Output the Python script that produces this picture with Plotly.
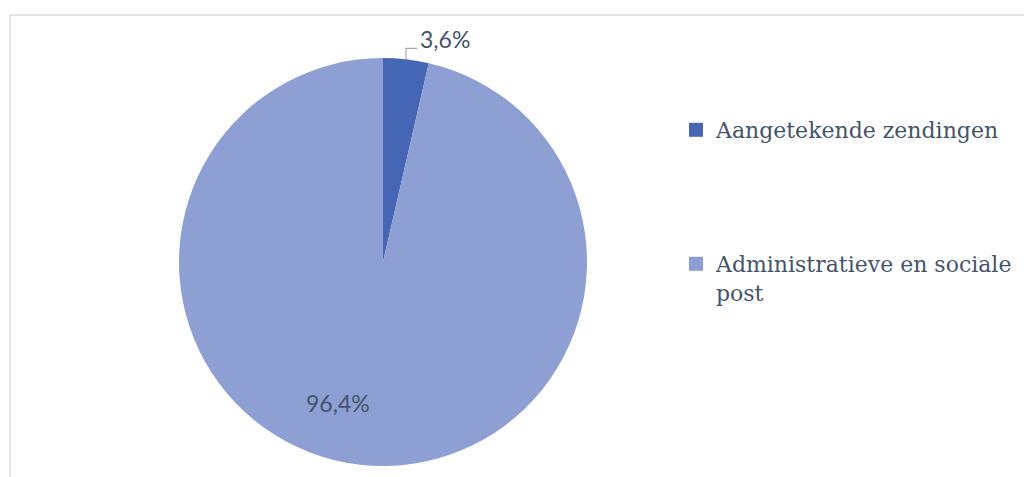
import math
import plotly.graph_objects as go

# Share of items by type of mail
labels = ["Aangetekende zendingen", "Administratieve en sociale post"]
legend_names = ["Aangetekende zendingen", "Administratieve en sociale<br>post"]
values = [3.6, 96.4]
colors = ["#4566b5", "#8e9fd3"]

W, H = 1024, 477
TEXT_COLOR = "#44546a"

# pie placement (pixel box converted to paper fractions)
px_left, px_right, px_top, px_bottom = 179, 587, 58, 466
dom_x = [px_left / W, px_right / W]
dom_y = [(H - px_bottom) / H, (H - px_top) / H]

fig = go.Figure()
fig.add_trace(go.Pie(
    labels=labels,
    values=values,
    sort=False,
    direction="clockwise",
    rotation=0,
    marker=dict(colors=colors, line=dict(width=0)),
    textinfo="none",
    showlegend=False,
    domain=dict(x=dom_x, y=dom_y),
))

# legend entries, one legend per item so they can be spaced apart
legend_ids = ["legend", "legend2"]
for name, col, lid in zip(legend_names, colors, legend_ids):
    fig.add_trace(go.Scatter(
        x=[None], y=[None], mode="markers", name=name,
        marker=dict(symbol="square", size=14, color=col),
        legend=lid, hoverinfo="skip",
    ))

legend_font = dict(family="DejaVu Serif", size=22, color=TEXT_COLOR)
legend_common = dict(
    font=legend_font, bgcolor="rgba(0,0,0,0)", borderwidth=0,
    xanchor="left", yanchor="top", valign="top", itemsizing="trace",
)

total = sum(values)
fmt = lambda v: f"{v / total * 100:.1f}%".replace(".", ",")

# leader line from the small slice's outer edge to its label
cx = (px_left + px_right) / 2
cy = (px_top + px_bottom) / 2
r = (px_right - px_left) / 2
mid = math.radians(values[0] / total * 360 / 2)
x0 = cx + r * math.sin(mid)
y0 = cy - r * math.cos(mid)
x1, y1 = x0, y0 - 11
x2, y2 = x0 + 11, y1
to_px = lambda x, y: (x / W, (H - y) / H)
p0, p1, p2 = to_px(x0, y0), to_px(x1, y1), to_px(x2, y2)

shapes = [
    # chart frame (top and left edges)
    dict(type="line", xref="paper", yref="paper", x0=10 / W, x1=1.0,
         y0=(H - 15) / H, y1=(H - 15) / H, line=dict(color="#dcdde3", width=1.5)),
    dict(type="line", xref="paper", yref="paper", x0=10 / W, x1=10 / W,
         y0=0, y1=(H - 15) / H, line=dict(color="#dcdde3", width=1.5)),
    dict(type="path", xref="paper", yref="paper",
         path=f"M {p0[0]},{p0[1]} L {p1[0]},{p1[1]} L {p2[0]},{p2[1]}",
         line=dict(color="#a6a6a6", width=1.2)),
]

label_font = dict(family="Lato", size=23, color=TEXT_COLOR)
annotations = [
    dict(text=fmt(values[0]), x=(x2 + 1) / W, y=(H - 39) / H, xref="paper", yref="paper",
         xanchor="left", yanchor="middle", showarrow=False, font=label_font),
    dict(text=fmt(values[1]), x=337.5 / W, y=(H - 403) / H, xref="paper", yref="paper",
         xanchor="center", yanchor="middle", showarrow=False, font=label_font),
]

fig.update_layout(
    width=W, height=H,
    margin=dict(l=0, r=0, t=0, b=0),
    paper_bgcolor="white", plot_bgcolor="white",
    xaxis=dict(visible=False), yaxis=dict(visible=False),
    legend=dict(x=676 / W, y=(H - 109) / H, **legend_common),
    legend2=dict(x=676 / W, y=(H - 243) / H, **legend_common),
    shapes=shapes,
    annotations=annotations,
)

fig.write_html("out.html")
